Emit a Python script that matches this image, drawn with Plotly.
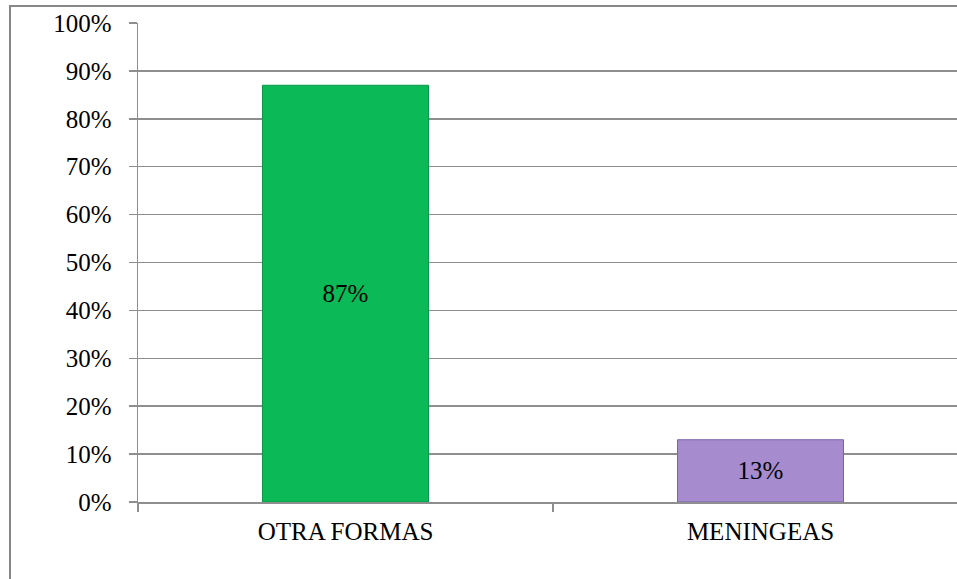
import plotly.graph_objects as go

categories = ["OTRA FORMAS", "MENINGEAS"]
values = [0.87, 0.13]
labels = ["87%", "13%"]
bar_colors = ["#0bba56", "#a68ccf"]
edge_colors = ["#08984a", "#7e62a8"]
tick_vals = [i / 10 for i in range(11)]
tick_text = [f"{i * 10}%" for i in range(11)]

FONT = "Liberation Serif"
FS = 25
GRID = "#8e8e8e"

fig = go.Figure()
fig.add_trace(go.Bar(
    x=categories,
    y=values,
    width=0.4,
    text=labels,
    textposition="inside",
    insidetextanchor="middle",
    textangle=0,
    textfont=dict(family=FONT, size=FS, color="#000000"),
    marker=dict(color=bar_colors, line=dict(color=edge_colors, width=1)),
    hoverinfo="skip",
))

W, H = 957, 579
L, T, B = 138, 23, 77
pw = W - L
ph = H - T - B

fig.update_layout(
    width=W, height=H,
    margin=dict(l=L, r=0, t=T, b=B, pad=0),
    paper_bgcolor="white", plot_bgcolor="white",
    showlegend=False,
    font=dict(family=FONT, size=FS, color="#000000"),
)
fig.update_xaxes(
    type="category",
    range=[-0.5, -0.5 + pw / 415.0],
    showgrid=False,
    showline=True, linecolor=GRID, linewidth=1.5,
    ticks="outside", tickson="boundaries", ticklen=8, tickwidth=1.5, tickcolor=GRID,
    tickfont=dict(family=FONT, size=FS, color="#000000"),
    ticklabelstandoff=6,
)
fig.update_yaxes(
    range=[0, 1],
    tickvals=tick_vals, ticktext=tick_text,
    showgrid=True, gridcolor=GRID, gridwidth=1.5,
    showline=True, linecolor=GRID, linewidth=1.5,
    ticks="outside", ticklen=8, tickwidth=1.5, tickcolor=GRID,
    tickfont=dict(family=FONT, size=FS, color="#000000"),
    ticklabelstandoff=12,
    zeroline=False,
)

# outer chart border (left and top edges visible; rest cropped)
fig.add_shape(
    type="rect", xref="paper", yref="paper",
    x0=(10 - L) / pw, x1=1.2,
    y0=-0.4, y1=(H - B - 6) / ph,
    line=dict(color="#878787", width=2), fillcolor="rgba(0,0,0,0)",
    layer="below",
)

fig.write_html(
    "out.html",
    config={"displayModeBar": False, "staticPlot": True},
    post_script="document.body.style.margin='0';document.body.style.overflow='hidden';",
)
